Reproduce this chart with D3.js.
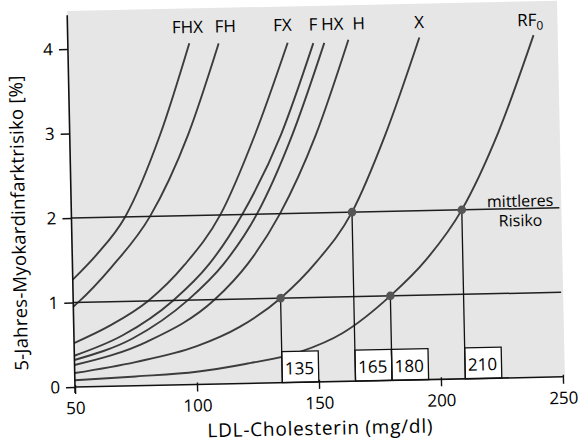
<!DOCTYPE html>
<html><head><meta charset="utf-8">
<script src="https://cdn.jsdelivr.net/npm/d3@7"></script>
<style>
html,body{margin:0;background:#fff}
svg{display:block;background:#fff}
text{font-family:"Open Sans",sans-serif;fill:#000}
</style>
</head><body>
<svg id="c" width="580" height="444"></svg>
<script>
// ---------- data ----------
const xTicks = [50, 100, 150, 200, 250];
const yTicks = [0, 1, 2, 3, 4];
const curveNames = ["FHX", "FH", "FX", "F", "HX", "H", "X", "RF"];
const FHX = [[50,1.27],[60,1.56],[72,2],[87,2.96],[99.8,4.04]];
const FH  = [[50,0.95],[52,1],[66,1.41],[82.2,2],[98.4,2.95],[111.8,4.03]];
const FX  = [[50,0.52],[65,0.72],[80.7,1],[96,1.42],[111,2],[125.9,2.94],[140.1,4.02]];
const F   = [[50,0.37],[70,0.6],[91,1],[106,1.42],[120,2],[136.5,2.93],[150.6,4.01]];
const HX  = [[50,0.32],[74,0.56],[97,1],[112,1.42],[126,2],[141.2,2.93],[155.1,4.01]];
const H   = [[50,0.26],[80,0.52],[108,1],[122,1.42],[135.5,2],[150.8,2.92],[165,4.04]];
const X   = [[50,0.165],[75,0.28],[100,0.45],[118,0.67],[135,1],[150,1.42],[165,2],[179.2,2.9],[194.1,4.05]];
const RF0 = [[50,0.08],[75,0.11],[100,0.15],[120,0.23],[142.5,0.36],[160,0.57],[180,1],[195,1.42],[210,2],[225.5,2.9],[240.9,4.05]];
const curves = [FHX, FH, FX, F, HX, H, X, RF0];
const riskLevels = [1, 2];
const markerX = [135, 165, 180, 210];
const markerY = [1, 2, 1, 2];
const xTitle = "LDL-Cholesterin (mg/dl)";
const yTitle = "5-Jahres-Myokardinfarktrisiko [%]";
const riskText = ["mittleres", "Risiko"];

// ---------- layout ----------
const labelDx = [-1.5, 7, -5, 0, 8.5, 10.7, 0, -3];
const svg = d3.select("#c");
svg.append("rect").attr("width", 580).attr("height", 444).attr("fill", "#fff");
const g = svg.append("g").attr("transform", "translate(75,387) rotate(-1.2)");
const x = d3.scaleLinear().domain([50, 250]).range([0, 488]);
const y = d3.scaleLinear().domain([0, 4.4]).range([0, -371.8]);

// plot background
g.append("rect")
  .attr("x", 0).attr("y", y(4.45))
  .attr("width", x(250) + 2).attr("height", -y(4.45))
  .attr("fill", "#e6e6e6");

// curves
const line = d3.line().x(d => x(d[0])).y(d => y(d[1])).curve(d3.curveMonotoneX);
g.append("g").selectAll("path").data(curves).join("path")
  .attr("d", line).attr("fill", "none")
  .attr("stroke", "#3c3c3c").attr("stroke-width", 1.9);

// risk level lines
g.append("g").selectAll("line").data(riskLevels).join("line")
  .attr("x1", x(50)).attr("x2", x(250))
  .attr("y1", d => y(d)).attr("y2", d => y(d))
  .attr("stroke", "#1e1e1e").attr("stroke-width", 1.5);

// value boxes
const markers = markerX.map((v, i) => ({x: v, y: markerY[i]}));
const boxes = g.append("g");
boxes.selectAll("rect").data(markers).join("rect")
  .attr("x", d => x(d.x)).attr("y", y(0) - 31)
  .attr("width", 36.5).attr("height", 31)
  .attr("fill", "#fff").attr("stroke", "#111").attr("stroke-width", 1.3);
boxes.selectAll("text").data(markers).join("text")
  .attr("x", d => x(d.x) + 17.5).attr("y", y(0) - 8)
  .attr("text-anchor", "middle").attr("font-size", 17)
  .text(d => d.x);

// drop lines
g.append("g").selectAll("line").data(markers).join("line")
  .attr("x1", d => x(d.x)).attr("x2", d => x(d.x))
  .attr("y1", d => y(d.y)).attr("y2", y(0))
  .attr("stroke", "#111").attr("stroke-width", 1.3);

// axes
const xAxis = d3.axisBottom(x).tickValues(xTicks).tickFormat(d3.format("d"))
  .tickSizeInner(7).tickSizeOuter(0).tickPadding(8);
const gx = g.append("g").call(xAxis)
  .attr("font-family", "Open Sans, sans-serif").attr("font-size", 17);
gx.select(".domain").remove();
gx.selectAll(".tick line").attr("y1", -2).attr("stroke", "#111").attr("stroke-width", 1.4);
gx.selectAll(".tick text").attr("fill", "#000");

const yAxis = d3.axisLeft(y).tickValues(yTicks).tickFormat(d3.format("d"))
  .tickSizeInner(9).tickSizeOuter(0).tickPadding(6);
const gy = g.append("g").call(yAxis)
  .attr("font-family", "Open Sans, sans-serif").attr("font-size", 17);
gy.select(".domain").remove();
gy.selectAll(".tick line").attr("stroke", "#111").attr("stroke-width", 1.4);
gy.selectAll(".tick text").attr("fill", "#000");

g.append("line").attr("x1", 0).attr("x2", 0).attr("y1", y(0) + 6).attr("y2", y(4.4))
  .attr("stroke", "#111").attr("stroke-width", 1.6);
g.append("line").attr("x1", 0).attr("x2", x(250)).attr("y1", y(0)).attr("y2", y(0))
  .attr("stroke", "#111").attr("stroke-width", 1.6);

// markers (dots)
g.append("g").selectAll("circle").data(markers).join("circle")
  .attr("cx", d => x(d.x)).attr("cy", d => y(d.y)).attr("r", 4.3)
  .attr("fill", "#555");

// curve labels
const labels = g.append("g").attr("font-size", 17);
curves.forEach((c, i) => {
  const end = c[c.length - 1];
  const t = labels.append("text")
    .attr("x", x(end[0]) + labelDx[i]).attr("y", y(4.16))
    .attr("text-anchor", "middle").text(curveNames[i]);
  if (curveNames[i] === "RF") {
    t.append("tspan").attr("font-size", 12).attr("dy", 4).text("0");
  }
});

// mittleres Risiko
g.append("text").attr("x", x(234)).attr("y", y(2) - 2)
  .attr("text-anchor", "middle").attr("font-size", 16).text(riskText[0]);
g.append("text").attr("x", x(234)).attr("y", y(2) + 17.5)
  .attr("text-anchor", "middle").attr("font-size", 16).text(riskText[1]);

// axis titles
g.append("text").attr("x", x(150)).attr("y", 53)
  .attr("text-anchor", "middle").attr("font-size", 19)
  .attr("textLength", 225).attr("lengthAdjust", "spacing").text(xTitle);
g.append("text").attr("transform", "translate(-46.5,-165) rotate(-90)")
  .attr("text-anchor", "middle").attr("font-size", 18.5)
  .attr("textLength", 295).attr("lengthAdjust", "spacing").text(yTitle);
</script>
</body></html>
